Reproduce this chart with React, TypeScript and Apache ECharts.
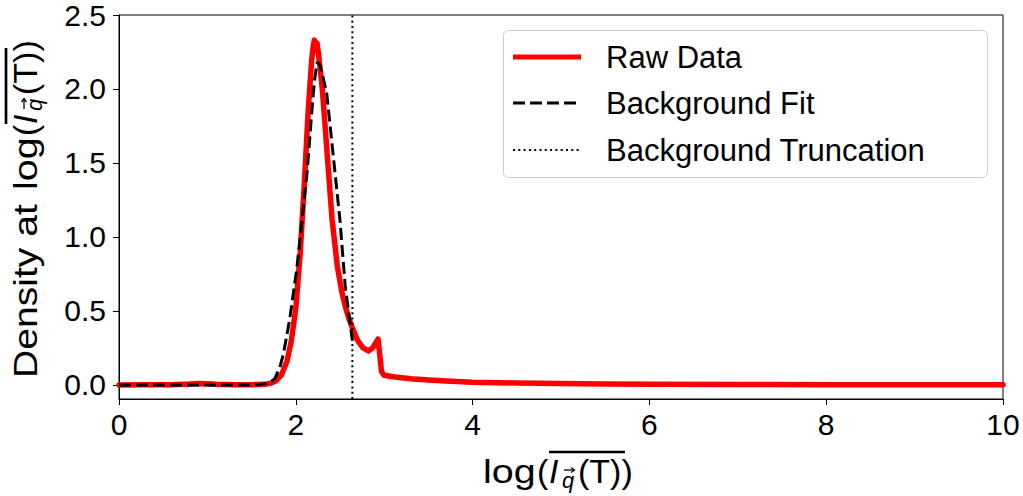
import React, { useEffect, useRef } from "react";
import * as echarts from "echarts";

// ---- data ----
const rawX = [0, 0.3, 0.6, 0.8, 0.9, 1.0, 1.1, 1.3, 1.5, 1.65, 1.72, 1.78, 1.84, 1.9, 1.95, 2.0, 2.05, 2.1, 2.14, 2.18, 2.2, 2.21, 2.23, 2.24, 2.26, 2.3, 2.35, 2.41, 2.47, 2.52, 2.56, 2.6, 2.65, 2.7, 2.76, 2.82, 2.87, 2.91, 2.93, 2.95, 2.97, 3.0, 3.1, 3.2, 3.3, 3.5, 3.7, 4.0, 4.5, 5.0, 5.5, 6.0, 7.0, 8.0, 9.0, 10.0];
const rawY = [0.0, 0.001, 0.002, 0.006, 0.01, 0.008, 0.004, 0.002, 0.002, 0.004, 0.012, 0.03, 0.07, 0.16, 0.3, 0.52, 0.89, 1.4, 1.85, 2.2, 2.3, 2.33, 2.29, 2.31, 2.22, 2.0, 1.6, 1.12, 0.8, 0.63, 0.53, 0.45, 0.37, 0.3, 0.25, 0.23, 0.25, 0.29, 0.31, 0.2, 0.09, 0.065, 0.055, 0.048, 0.042, 0.034, 0.027, 0.019, 0.013, 0.01, 0.007, 0.005, 0.003, 0.002, 0.001, 0.001];
const fitX = [0, 1.5, 1.6, 1.7, 1.76, 1.82, 1.86, 1.93, 2.01, 2.07, 2.13, 2.18, 2.21, 2.24, 2.27, 2.3, 2.35, 2.42, 2.5, 2.56, 2.64];
const fitY = [0, 0, 0.003, 0.015, 0.04, 0.12, 0.21, 0.44, 0.78, 1.11, 1.45, 1.84, 2.05, 2.18, 2.17, 2.1, 1.97, 1.57, 1.11, 0.66, 0.3];
const truncationX = 2.64;

const xMin = 0;
const xMax = 10;
const xInterval = 2;
const yMin = -0.095;
const yMax = 2.5;
const yTickValues = [0, 0.5, 1.0, 1.5, 2.0, 2.5];
const seriesNames = ["Raw Data", "Background Fit", "Background Truncation"];
const yLabelPrefix = "Density at";

// ---- styles ----
const FONT = "'Liberation Sans', Arial, Helvetica, sans-serif";
const TICK_FS = 30;
const AX_FS = 34;
const LEG_FS = 31;

function txt(text: string, x: number, fs: number, italic = false, dy = 0, scaleX = 1): any {
  return {
    type: "text",
    x,
    y: -0.34 * fs + dy,
    scaleX,
    silent: true,
    style: {
      text,
      fontSize: fs,
      fontFamily: FONT,
      fontStyle: italic ? "italic" : "normal",
      fill: "#000",
      align: "left",
      verticalAlign: "middle",
      textAlign: "left",
      textVerticalAlign: "middle",
    },
  };
}

function mathPart(x0: number): any[] {
  return [
    txt("log", x0, AX_FS, false, 0, 1.16),
    txt("(", x0 + 54, AX_FS),
    txt("I", x0 + 66, AX_FS, true),
    txt("q", x0 + 79, 22, true, 5),
    { type: "line", silent: true, shape: { x1: x0 + 81, y1: -13, x2: x0 + 91, y2: -13 }, style: { stroke: "#000", lineWidth: 1.3 } },
    { type: "polyline", silent: true, shape: { points: [[x0 + 88, -15.5], [x0 + 91.5, -13], [x0 + 88, -10.5]] }, style: { stroke: "#000", lineWidth: 1.3, fill: null } },
    txt("(T))", x0 + 95, AX_FS),
    { type: "line", silent: true, shape: { x1: x0 + 66, y1: -31, x2: x0 + 142, y2: -31 }, style: { stroke: "#000", lineWidth: 2.7 } },
  ];
}

export default function App() {
  const ref = useRef<HTMLDivElement>(null);
  useEffect(() => {
    if (!ref.current) return;
    const chart = echarts.init(ref.current, undefined, { renderer: "svg" });
    const rawData = rawX.map((x, i) => [x, rawY[i]]);
    const fitData = fitX.map((x, i) => [x, fitY[i]]);
    const truncData = [[truncationX, yMin], [truncationX, yMax]];

    const legendX = 503;
    const legendRows = [57, 103, 150];
    const handleStyles: any[] = [
      { stroke: "#ff0000", lineWidth: 5 },
      { stroke: "#000", lineWidth: 3, lineDash: [12, 5] },
      { stroke: "#000", lineWidth: 2, lineDash: [2, 3.3] },
    ];

    const option: any = {
      animation: false,
      backgroundColor: "#fff",
      grid: {
        left: 119,
        top: 15,
        width: 884,
        height: 384,
        show: true,
        borderColor: "#000",
        borderWidth: 1,
        backgroundColor: "transparent",
        containLabel: false,
      },
      xAxis: {
        type: "value",
        min: xMin,
        max: xMax,
        interval: xInterval,
        axisLine: { show: true, onZero: false, lineStyle: { color: "#000", width: 1 } },
        axisTick: { show: true, inside: false, length: 6, lineStyle: { color: "#000", width: 1 } },
        axisLabel: { fontSize: TICK_FS, fontFamily: FONT, color: "#000", margin: 10 },
        splitLine: { show: false },
      },
      yAxis: {
        type: "value",
        min: yMin,
        max: yMax,
        axisLine: { show: true, onZero: false, lineStyle: { color: "#000", width: 1 } },
        axisTick: { show: true, inside: false, length: 6, customValues: yTickValues, lineStyle: { color: "#000", width: 1 } },
        axisLabel: {
          fontSize: TICK_FS,
          fontFamily: FONT,
          color: "#000",
          margin: 13,
          customValues: yTickValues,
          formatter: (v: number) => v.toFixed(1),
        },
        splitLine: { show: false },
      },
      series: [
        {
          name: seriesNames[0],
          type: "line",
          data: rawData,
          showSymbol: false,
          symbol: "none",
          lineStyle: { color: "#ff0000", width: 5.5, join: "round", cap: "round" },
          z: 2,
        },
        {
          name: seriesNames[1],
          type: "line",
          data: fitData,
          showSymbol: false,
          symbol: "none",
          lineStyle: { color: "#000", width: 3, type: [12, 5] },
          z: 3,
        },
        {
          name: seriesNames[2],
          type: "line",
          data: truncData,
          showSymbol: false,
          symbol: "none",
          lineStyle: { color: "#000", width: 2, type: [2, 3.3] },
          z: 4,
        },
      ],
      graphic: [
        { type: "group", x: 483, y: 483, children: mathPart(0) },
        {
          type: "group",
          x: 37,
          y: 378,
          rotation: Math.PI / 2,
          children: [txt(yLabelPrefix, 0, AX_FS, false, 0, 1.15), ...mathPart(188)],
        },
        {
          type: "rect",
          z: 100,
          shape: { x: legendX + 0.5, y: 30.5, width: 484, height: 147, r: 5 },
          style: { fill: "rgba(255,255,255,0.8)", stroke: "#cccccc", lineWidth: 1 },
        },
        ...legendRows.map((yy, i) => ({
          type: "line",
          z: 101,
          shape: { x1: 513, y1: yy, x2: 581, y2: yy },
          style: handleStyles[i],
        })),
        ...legendRows.map((yy, i) => ({
          type: "text",
          z: 101,
          x: 606,
          y: yy,
          style: {
            text: seriesNames[i],
            fontSize: LEG_FS,
            fontFamily: FONT,
            fill: "#000",
            align: "left",
            verticalAlign: "middle",
            textAlign: "left",
            textVerticalAlign: "middle",
          },
        })),
      ],
    };
    chart.setOption(option);
    return () => chart.dispose();
  }, []);
  return (
    <div
      ref={ref}
      style={{ position: "fixed", left: 0, top: 0, width: 1023, height: 496, background: "#fff" }}
    />
  );
}
